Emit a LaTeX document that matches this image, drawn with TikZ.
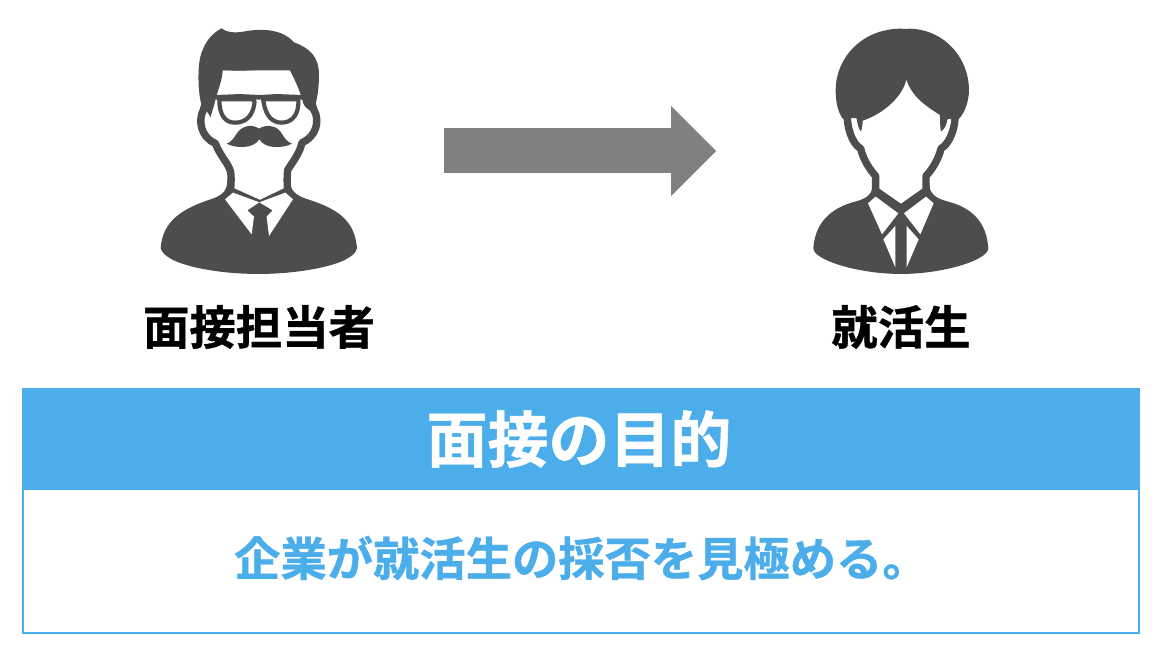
\documentclass[tikz,border=0pt]{standalone}
\usepackage{fontspec}
\newfontfamily\cjk{Noto Sans CJK JP}[BoldFont={Noto Sans CJK JP Bold}, BoldFeatures={FakeBold=0.8}]
\usetikzlibrary{arrows.meta}

\definecolor{icongrey}{HTML}{4D4D4D}
\definecolor{arrowgrey}{HTML}{808080}
\definecolor{skyblue}{HTML}{4BADEA}

\begin{document}
\begin{tikzpicture}
		[
			x=1pt, y=-1pt,
			dark/.style={fill=icongrey},
			light/.style={fill=white},
			rim/.style={draw=icongrey, line width=7.4pt, line join=round},
			label/.style={font=\cjk\bfseries\fontsize{46.4}{46}\selectfont, inner sep=0pt},
			blockarrow/.style={draw=arrowgrey, line width=45pt, -{Triangle[length=45pt, width=90pt, line width=0pt]}},
		]

		\useasboundingbox (0,0) rectangle (1160,658);
		\fill[white] (0,0) rectangle (1160,658);

		% stray mark at the top edge
		\fill[gray!25] (569,0) arc[start angle=180, end angle=360, x radius=12, y radius=3] -- cycle;

		% Interviewer
		\begin{scope}[shift={(140,0)}, x=0.3333pt, y=-0.3333pt]
			% shoulders
			\path[dark] (62,745) .. controls (68,660) and (130,625) .. (215,597)
				.. controls (250,585) and (262,570) .. (262,540) -- (450,540)
				.. controls (450,570) and (465,585) .. (500,597)
				.. controls (590,625) and (645,660) .. (651,745)
				.. controls (640,795) and (480,822) .. (355,822)
				.. controls (230,822) and (75,795) .. (62,745) -- cycle;
			% face
			\path[light, rim] (190,330) .. controls (175,360) and (180,410) .. (226,430)
				.. controls (240,470) and (272,495) .. (273,525)
				.. controls (274,550) and (272,565) .. (271,572) -- (360,612) -- (443,572)
				.. controls (441,550) and (441,530) .. (443,510)
				.. controls (455,490) and (480,460) .. (486,428)
				.. controls (530,410) and (540,360) .. (522,330) -- (480,200) -- (230,200) -- cycle;
			% hair
			\path[dark] (245,85) .. controls (265,100) and (285,98) .. (310,95)
				.. controls (360,85) and (425,85) .. (462,127)
				.. controls (510,145) and (537,170) .. (537,225)
				.. controls (537,270) and (530,310) .. (518,340)
				.. controls (505,325) and (495,325) .. (490,310)
				.. controls (480,270) and (460,230) .. (443,197)
				.. controls (380,210) and (310,215) .. (248,210)
				.. controls (248,240) and (230,280) .. (225,305)
				.. controls (222,320) and (215,335) .. (212,352)
				.. controls (205,340) and (195,325) .. (185,318)
				.. controls (175,280) and (172,220) .. (180,175)
				.. controls (190,130) and (215,100) .. (245,85) -- cycle;
			% glasses
			\draw[icongrey, line width=4.2pt, fill=white] (238,298) -- (335,298)
				.. controls (342,298) and (345,302) .. (343,312)
				.. controls (338,345) and (320,368) .. (285,368)
				.. controls (255,368) and (238,345) .. (238,298) -- cycle;
			\draw[icongrey, line width=4.2pt, fill=white] (372,298) -- (475,298)
				.. controls (478,345) and (455,368) .. (425,368)
				.. controls (395,368) and (378,345) .. (372,312)
				.. controls (370,302) and (368,298) .. (372,298) -- cycle;
			\draw[icongrey, line width=4.6pt] (226,292) -- (300,289) -- (358,292) -- (410,289) -- (487,292);
			% moustache
			\path[dark] (260,431) .. controls (290,420) and (285,385) .. (325,378)
				.. controls (340,376) and (350,382) .. (358,386)
				.. controls (365,380) and (380,376) .. (395,379)
				.. controls (430,385) and (425,420) .. (456,431)
				.. controls (430,445) and (375,448) .. (358,418)
				.. controls (340,448) and (285,445) .. (260,431) -- cycle;
			% collar
			\path[light] (255,598) -- (279,578) -- (358,607) -- (322,631) -- (342,650) -- (335,703) -- cycle;
			\path[light] (459,598) -- (436,578) -- (358,607) -- (398,631) -- (380,650) -- (387,708) -- cycle;
		\end{scope}

		% Candidate
		\begin{scope}[shift={(790,0)}, x=0.3333pt, y=-0.3333pt]
			% shoulders
			\path[dark] (70,745) .. controls (75,670) and (120,625) .. (195,605)
				.. controls (235,595) and (248,580) .. (248,550) -- (418,550)
				.. controls (418,580) and (435,595) .. (475,605)
				.. controls (550,625) and (590,670) .. (595,745)
				.. controls (595,780) and (460,822) .. (333,822)
				.. controls (205,822) and (70,780) .. (70,745) -- cycle;
			% face
			\path[light, rim] (172,340) .. controls (170,380) and (185,430) .. (212,446)
				.. controls (220,480) and (240,510) .. (257,528)
				-- (257,572) -- (333,625) -- (408,572) -- (408,528)
				.. controls (425,510) and (445,480) .. (453,446)
				.. controls (480,430) and (498,380) .. (495,340) -- (430,200) -- (240,200) -- cycle;
			% hair
			\path[dark] (333,86) .. controls (345,88) and (350,86) .. (360,86)
				.. controls (470,90) and (537,180) .. (537,270)
				.. controls (537,310) and (520,345) .. (505,358)
				.. controls (490,355) and (480,355) .. (472,358)
				.. controls (470,375) and (465,385) .. (453,395)
				.. controls (450,380) and (450,360) .. (450,345)
				.. controls (410,320) and (365,290) .. (349,238)
				.. controls (340,285) and (285,340) .. (218,362)
				.. controls (218,375) and (216,385) .. (213,395)
				.. controls (205,385) and (202,370) .. (200,355)
				.. controls (185,353) and (170,355) .. (160,358)
				.. controls (145,340) and (137,310) .. (137,270)
				.. controls (137,175) and (215,86) .. (333,86) -- cycle;
			% collar and tie
			\path[light] (234,610) -- (257,590) -- (325,640) -- (276,703) -- cycle;
			\path[light] (431,610) -- (408,590) -- (342,640) -- (391,703) -- cycle;
			\path[light] (280,718) -- (316,678) -- (316,802) -- cycle;
			\path[light] (386,718) -- (350,678) -- (350,802) -- cycle;
		\end{scope}

		% Nodes
		\foreach \name/\x/\y/\word in
		{
			interviewer/259/327/面接担当者,
			candidate/901/327/就活生
		}
			\node[label] (\name) at (\x,\y) {\word};

		% Box
		\node[draw=skyblue, line width=2pt, fill=white, minimum width=1116pt, minimum height=244pt, inner sep=0pt, anchor=north west] (frame) at (22,388) {};
		\node[fill=skyblue, minimum width=1118pt, minimum height=102pt, inner sep=0pt, outer sep=0pt, anchor=north west, text=white, font=\cjk\bfseries\fontsize{61}{62}\selectfont] (title) at (22,388) {\hspace*{-4pt}\raisebox{5pt}{面接の目的}};
		\node[inner sep=0pt, anchor=west, text=skyblue, font=\cjk\bfseries\fontsize{46.3}{46}\selectfont] (aim) at (234,558) {企業が就活生の採否を見極める。};

		% Arrow
		\coordinate (arrowfrom) at (444,151);
		\coordinate (arrowto) at (716,151);
		\draw[blockarrow] (arrowfrom) -- (arrowto);

		\end{tikzpicture}
\end{document}
